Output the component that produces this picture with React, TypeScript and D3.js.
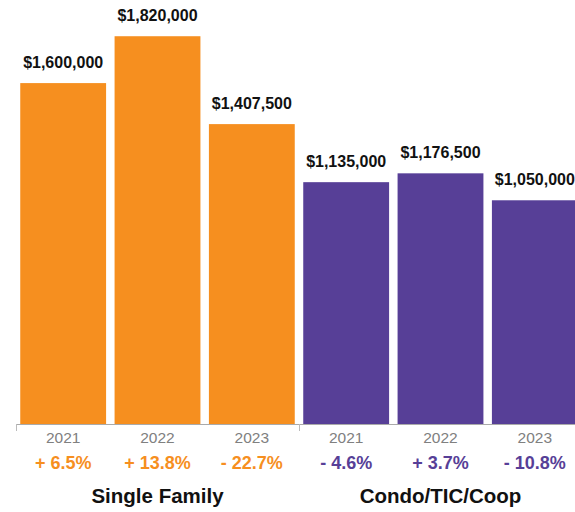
import React from "react";
import * as d3 from "d3";

const groups = ["Single Family", "Condo/TIC/Coop"];
const years = ["2021", "2022", "2023"];
const singleFamily = [1600000, 1820000, 1407500];
const condo = [1135000, 1176500, 1050000];
const sfChange = ["+ 6.5%", "+ 13.8%", "- 22.7%"];
const condoChange = ["- 4.6%", "+ 3.7%", "- 10.8%"];
const colors = ["#F68F1F", "#573F97"];

export default function App() {
  const W = 575, H = 512;
  const baseY = 424;
  const x0 = d3.scaleBand().domain(groups).range([16, 582]).paddingInner(0).paddingOuter(0);
  const x1 = d3.scaleBand().domain(years).range([0, x0.bandwidth()]).paddingInner(0.09).paddingOuter(0.045);
  const y = d3.scaleLinear().domain([0, 1990000]).range([baseY, 0]);
  const series = [singleFamily, condo];
  const changes = [sfChange, condoChange];
  const fmt = (v: number) => "$" + d3.format(",")(v);
  const font = "'Liberation Sans', Arial, Helvetica, sans-serif";
  const tickXs = [16, ...groups.map((g) => (x0(g) as number) + x0.bandwidth())];

  return (
    <svg width={W} height={H} style={{ position: "absolute", left: 0, top: 0 }} fontFamily={font}>
      {groups.map((g, gi) => {
        const gx = x0(g) as number;
        return (
          <g key={g}>
            {years.map((yr, i) => {
              const v = series[gi][i];
              const bx = gx + (x1(yr) as number);
              const cx = bx + x1.bandwidth() / 2;
              return (
                <g key={yr}>
                  <rect x={bx} y={y(v)} width={x1.bandwidth()} height={baseY - y(v)} fill={colors[gi]} />
                  <text x={cx} y={y(v) - 15} textAnchor="middle" fontWeight="bold" fontSize={16} fill="#111">
                    {fmt(v)}
                  </text>
                  <text x={cx} y={443} textAnchor="middle" fontSize={15.5} fill="#808080">
                    {yr}
                  </text>
                  <text x={cx} y={469} textAnchor="middle" fontWeight="bold" fontSize={18} fill={colors[gi]}>
                    {changes[gi][i]}
                  </text>
                </g>
              );
            })}
            <text x={gx + x0.bandwidth() / 2} y={503} textAnchor="middle" fontWeight="bold" fontSize={20.5} fill="#111">
              {g}
            </text>
          </g>
        );
      })}
      <line x1={16} x2={582} y1={baseY + 0.5} y2={baseY + 0.5} stroke="#aaa" strokeWidth={1} />
      {tickXs.map((t, i) => (
        <line key={i} x1={t + 0.5} x2={t + 0.5} y1={baseY} y2={baseY + 7} stroke="#bbb" strokeWidth={1} />
      ))}
    </svg>
  );
}
